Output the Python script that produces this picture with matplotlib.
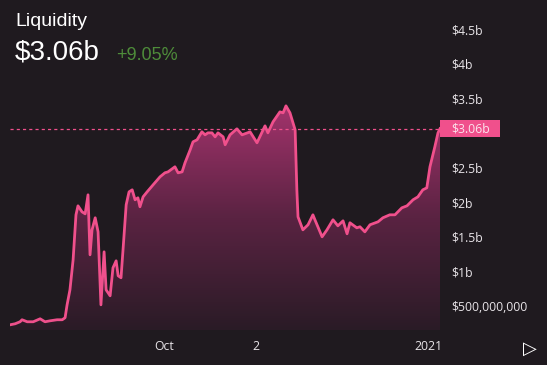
import numpy as np
import matplotlib.pyplot as plt
from matplotlib.colors import LinearSegmentedColormap
from matplotlib.patches import Rectangle

# Liquidity in billions of dollars, days are offsets from 2020-10-01
days = [-53.7, -51.9, -50.2, -49.5, -47.7, -45.6, -43.2, -41.5, -39.7, -37.3,
        -35.5, -34.5, -33.8, -32.8, -31.7, -30.7, -30.0, -28.6, -27.5, -26.5,
        -26.1, -25.8, -25.1, -24.0, -23.0, -22.0, -20.9, -20.2, -18.8, -17.8,
        -16.7, -16.0, -15.0, -14.3, -13.2, -12.2, -11.1, -10.1, -9.1, -8.4,
        -7.3, -5.9, -3.8, -1.4, 0.3, 1.4, 3.8, 4.9, 6.3, 7.3,
        9.1, 10.1, 11.5, 13.2, 14.3, 15.3, 16.7, 17.8, 18.8, 20.6,
        21.3, 23.0, 25.4, 27.2, 30.0, 32.4, 35.2, 36.2, 38.0, 40.4,
        41.5, 42.5, 43.9, 45.7, 46.3, 46.7, 48.4, 50.2, 51.9, 52.6,
        55.1, 56.8, 58.9, 60.6, 62.4, 63.8, 64.8, 67.2, 68.3, 70.0,
        71.8, 74.6, 76.3, 78.7, 80.5, 82.9, 84.7, 86.8, 88.5, 90.2,
        91.6, 92.7, 94.4, 95.5, 96.2]
liquidity = [0.225, 0.240, 0.269, 0.298, 0.269, 0.269, 0.312, 0.269, 0.283, 0.298,
             0.298, 0.327, 0.514, 0.731, 1.165, 1.815, 1.945, 1.858, 1.829, 2.104,
             1.598, 1.237, 1.598, 1.772, 1.569, 0.514, 1.280, 0.731, 0.644, 1.049,
             1.150, 0.934, 0.905, 1.309, 1.960, 2.147, 2.176, 2.032, 2.061, 1.931,
             2.075, 2.147, 2.249, 2.364, 2.422, 2.436, 2.509, 2.422, 2.436, 2.566,
             2.754, 2.870, 2.899, 3.015, 2.971, 3.000, 3.000, 2.942, 3.000, 2.942,
             2.827, 2.971, 3.058, 2.971, 3.014, 2.856, 3.101, 3.000, 3.159, 3.303,
             3.289, 3.390, 3.289, 3.043, 2.176, 1.786, 1.598, 1.671, 1.815, 1.743,
             1.497, 1.598, 1.743, 1.656, 1.728, 1.541, 1.700, 1.627, 1.642, 1.569,
             1.671, 1.714, 1.772, 1.815, 1.815, 1.916, 1.945, 2.032, 2.075, 2.176,
             2.205, 2.509, 2.798, 3.000, 3.060]
current = 3.06

x_ticks = [0, 32, 92]
x_labels = ['Oct', '2', '2021']
y_ticks = [0.5, 1, 1.5, 2, 2.5, 3, 3.5, 4, 4.5]
y_labels = ['$500,000,000', '$1b', '$1.5b', '$2b', '$2.5b', '', '$3.5b', '$4b', '$4.5b']

bg = '#1f1a1f'
pink = '#f0508c'
plt.rcParams['font.family'] = ['Open Sans', 'DejaVu Sans']

fig = plt.figure(figsize=(5.47, 3.65), dpi=100, facecolor=bg)
ax = fig.add_axes([10 / 547, 35 / 365, 430 / 547, 330 / 365], facecolor=bg)

x = np.array(days)
y = np.array(liquidity)
ymin, ymax = 0.15, 4.92

# gradient fill under the line
poly = ax.fill_between(x, y, ymin, color='none', lw=0)
cmap = LinearSegmentedColormap.from_list('fade', ['#2a1b26', '#5a2342', '#a3336c'])
grad = np.linspace(0, 1, 256).reshape(-1, 1)
img = ax.imshow(grad, cmap=cmap, aspect='auto', origin='lower',
                extent=[x.min(), x.max(), ymin, 3.4], zorder=1)
img.set_clip_path(poly.get_paths()[0], transform=ax.transData)

ax.plot(x, y, color=pink, lw=2.0, solid_joinstyle='round', zorder=3)
ax.axhline(current, color=pink, lw=0.9, ls=(0, (2.5, 2.5)), zorder=2)

ax.set_xlim(x.min(), x.max())
ax.set_ylim(ymin, ymax)
ax.set_xticks(x_ticks, x_labels)
ax.yaxis.tick_right()
ax.set_yticks(y_ticks, y_labels)
ax.tick_params(length=0, colors='#e8e4e8', labelsize=8.8)
ax.tick_params(axis='x', pad=7)
ax.tick_params(axis='y', pad=8)
for s in ax.spines.values():
    s.set_visible(False)

# current value tag on the axis
tag_y = ax.transData.transform((0, current))[1] / fig.dpi / 3.65
fig.patches.append(Rectangle((440 / 547, tag_y - 8.5 / 365), 60 / 547, 17 / 365,
                             transform=fig.transFigure, fc=pink, ec='none'))
fig.text(451 / 547, tag_y, '$3.06b', ha='left', va='center', fontsize=8.8,
         color='#fbe3ec')

fig.text(15 / 547, 1 - 21 / 365, 'Liquidity', color='white', fontsize=14,
         va='center', family='Liberation Sans')
fig.text(15 / 547, 1 - 53 / 365, '$3.06b', color='white', fontsize=20,
         va='center', family='Liberation Sans')
fig.text(116 / 547, 1 - 56 / 365, '+9.05%', color='#4e8c3a', fontsize=13,
         va='center', family='Liberation Sans')
fig.text(530 / 547, 1 - 349 / 365, '▷', color='white', fontsize=13, ha='center',
         va='center', family='DejaVu Sans')

fig.savefig('out.png', dpi=100, facecolor=bg)
